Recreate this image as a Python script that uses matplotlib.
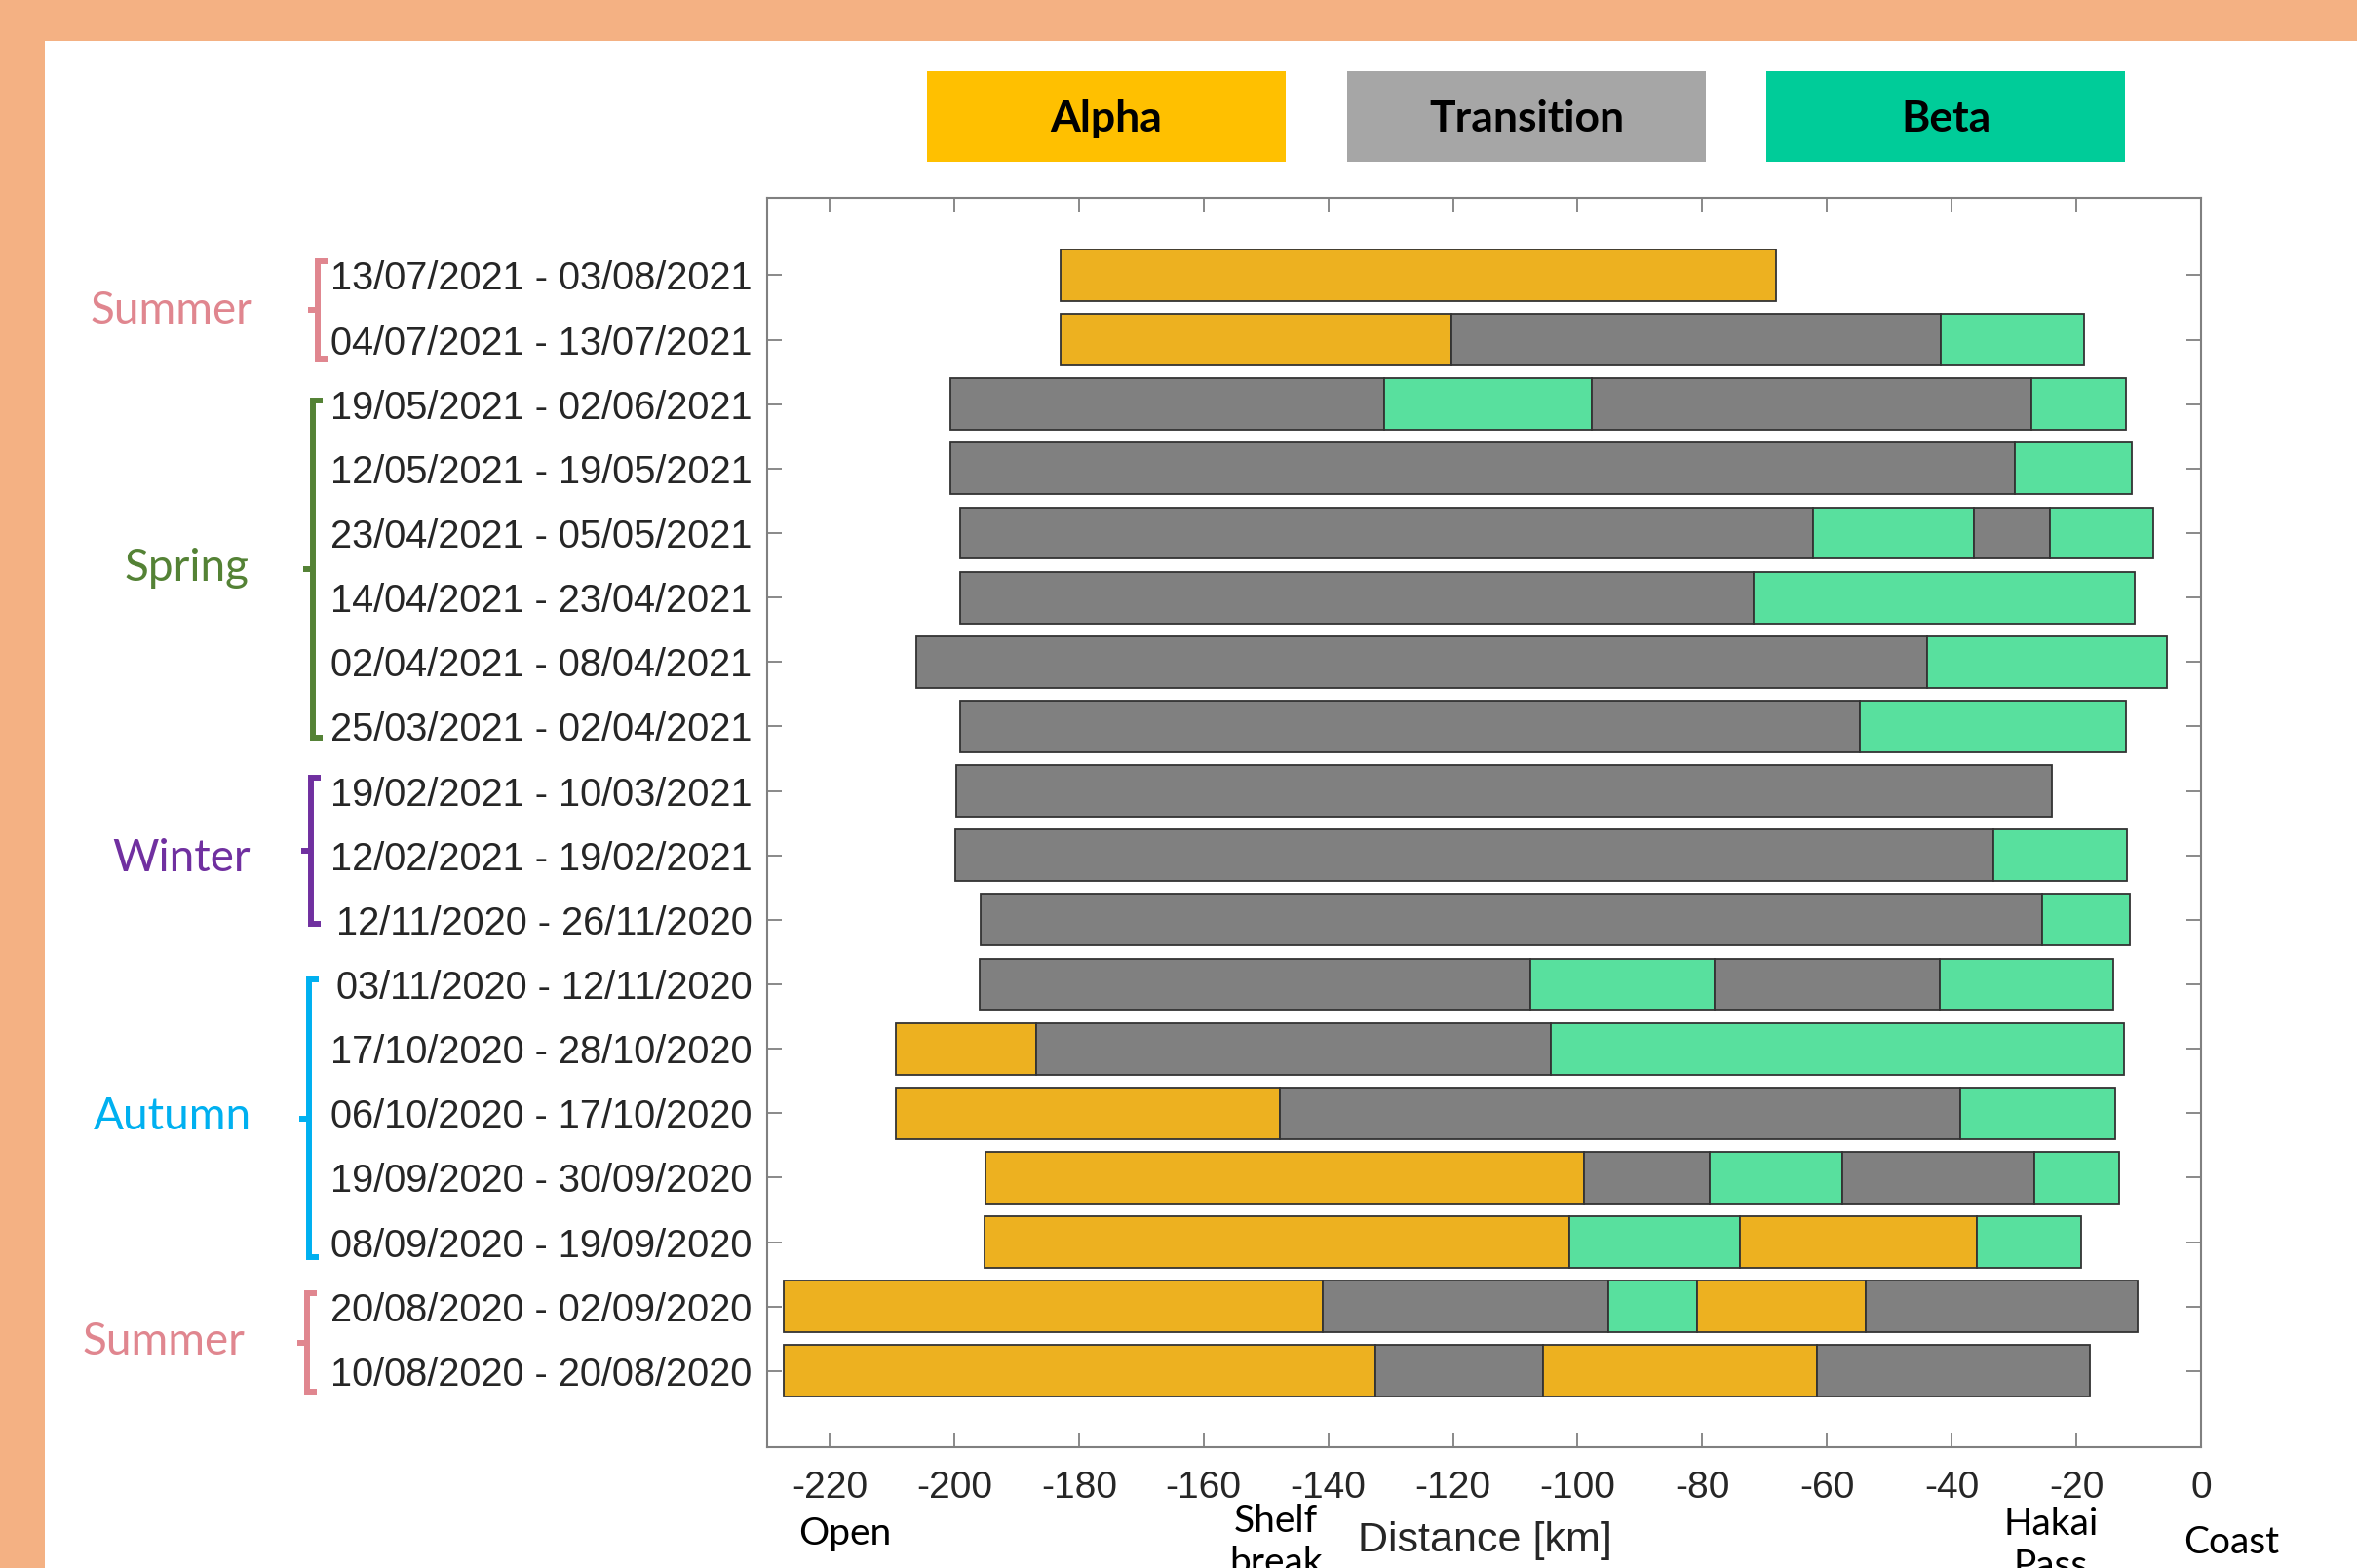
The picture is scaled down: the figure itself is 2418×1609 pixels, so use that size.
import matplotlib.pyplot as plt
from matplotlib.lines import Line2D
from matplotlib.patches import Rectangle
from matplotlib.transforms import blended_transform_factory

plt.rcParams["font.family"] = "Liberation Sans"
plt.rcParams["axes.unicode_minus"] = False

# sampling periods, top to bottom
periods = [
    "13/07/2021 - 03/08/2021", "04/07/2021 - 13/07/2021",
    "19/05/2021 - 02/06/2021", "12/05/2021 - 19/05/2021",
    "23/04/2021 - 05/05/2021", "14/04/2021 - 23/04/2021",
    "02/04/2021 - 08/04/2021", "25/03/2021 - 02/04/2021",
    "19/02/2021 - 10/03/2021", "12/02/2021 - 19/02/2021",
    "12/11/2020 - 26/11/2020", "03/11/2020 - 12/11/2020",
    "17/10/2020 - 28/10/2020", "06/10/2020 - 17/10/2020",
    "19/09/2020 - 30/09/2020", "08/09/2020 - 19/09/2020",
    "20/08/2020 - 02/09/2020", "10/08/2020 - 20/08/2020",
]

# segment boundaries along the transect [km] for each period
edges = [
    [-183.0, -68.2],
    [-183.0, -120.3, -41.7, -18.8],
    [-200.6, -131.0, -97.7, -27.2, -12.1],
    [-200.6, -29.9, -11.1],
    [-199.1, -62.3, -36.4, -24.2, -7.6],
    [-199.0, -71.8, -10.7],
    [-206.1, -43.9, -5.4],
    [-199.0, -54.8, -12.1],
    [-199.6, -23.9],
    [-199.8, -33.3, -11.9],
    [-195.8, -25.5, -11.4],
    [-195.9, -107.6, -78.0, -41.9, -14.0],
    [-209.3, -186.9, -104.3, -12.3],
    [-209.4, -147.8, -38.6, -13.8],
    [-195.0, -98.9, -78.8, -57.5, -26.8, -13.2],
    [-195.2, -101.3, -74.0, -36.0, -19.2],
    [-227.3, -140.8, -95.1, -80.8, -53.8, -10.1],
    [-227.3, -132.5, -105.6, -61.6, -17.8],
]

# water mass of each segment: A = Alpha, T = Transition, B = Beta
states = [
    ["A"],
    ["A", "T", "B"],
    ["T", "B", "T", "B"],
    ["T", "B"],
    ["T", "B", "T", "B"],
    ["T", "B"],
    ["T", "B"],
    ["T", "B"],
    ["T"],
    ["T", "B"],
    ["T", "B"],
    ["T", "B", "T", "B"],
    ["A", "T", "B"],
    ["A", "T", "B"],
    ["A", "T", "B", "T", "B"],
    ["A", "B", "A", "B"],
    ["A", "T", "B", "A", "T"],
    ["A", "T", "A", "T"],
]

seasons = ["Summer", "Spring", "Winter", "Autumn", "Summer"]
season_rows = [(1, 2), (3, 8), (9, 11), (12, 16), (17, 18)]
season_colors = ["#E0868F", "#548235", "#7030A0", "#00B0F0", "#E0868F"]

state_order = ["A", "T", "B"]
state_names = {"A": "Alpha", "T": "Transition", "B": "Beta"}
bar_colors = {"A": "#EDB120", "T": "#808080", "B": "#58E09E"}
key_colors = {"A": "#FFC000", "T": "#A6A6A6", "B": "#00CC99"}

W, H = 2418, 1609
fig = plt.figure(figsize=(W / 100, H / 100), dpi=100, facecolor="#F4B183")
fig.patches.append(Rectangle((46 / W, 0), 1, 1 - 42 / H, transform=fig.transFigure,
                             facecolor="white", edgecolor="none", zorder=-5))

ax = fig.add_axes([787 / W, 1 - 1485 / H, (2258 - 787) / W, (1485 - 203) / H])
ax.set_zorder(2)

for i, (e, s) in enumerate(zip(edges, states)):
    for j, st in enumerate(s):
        ax.barh(i + 1, e[j + 1] - e[j], left=e[j], height=0.8, color=bar_colors[st],
                edgecolor="#333333", linewidth=1.3, zorder=3)

ax.set_xlim(-230, 0)
ax.set_ylim(19.18, -0.2)
ax.set_xticks(range(-220, 1, 20))
ax.set_yticks(range(1, len(periods) + 1))
ax.set_yticklabels(periods, fontsize=28.6)
ax.tick_params(axis="x", labelsize=28, pad=17)
ax.tick_params(axis="y", pad=11)
ax.tick_params(axis="both", direction="in", length=11, width=1.3, color="#808080",
               labelcolor="#262626", top=True, right=True)
for sp in ax.spines.values():
    sp.set_color("#808080")
    sp.set_linewidth(1.5)

# season brackets next to the period labels
trans = blended_transform_factory(fig.transFigure, ax.transData)
bracket_x = [0.1350, 0.1328, 0.1319, 0.1311, 0.1303]
bracket_pad = [(0.22, 0.30), (0.06, 0.18), (0.21, 0.06), (0.07, 0.23), (0.21, 0.32)]
label_x = [0.0728, 0.0794, 0.0769, 0.0730, 0.0695]
hook = 10 / W
for name, (r0, r1), c, bx, (p0, p1), lx in zip(seasons, season_rows, season_colors,
                                                 bracket_x, bracket_pad, label_x):
    top, bot = r0 - p0, r1 + p1
    mid = (top + bot) / 2
    fig.add_artist(Line2D([bx + hook, bx, bx, bx + hook], [top, top, bot, bot],
                          transform=trans, color=c, lw=4.3, solid_joinstyle="miter",
                          solid_capstyle="butt"))
    fig.add_artist(Line2D([bx, bx - hook], [mid, mid], transform=trans, color=c, lw=4.3,
                          solid_capstyle="butt"))
    fig.text(lx, (r0 + r1) / 2 + 0.05, name, transform=trans, color=c, fontsize=33,
             family="Lato", ha="center", va="center")

# colour key above the axes
box_left = [951, 1382, 1812]
for st, x0 in zip(state_order, box_left):
    fig.patches.append(Rectangle((x0 / W, 1 - 166 / H), 368 / W, 93 / H,
                                 transform=fig.transFigure, facecolor=key_colors[st],
                                 edgecolor="none", zorder=1))
    fig.text((x0 + 184) / W, 1 - 122 / H, state_names[st], fontsize=32, family="Lato",
             weight="bold", ha="center", va="center", color="black")

# transect landmarks under the distance axis
fig.text(867 / W, 1 - 1585 / H, "Open", fontsize=28, family="Lato", ha="center",
         va="baseline")
fig.text(1309 / W, 1 - 1543 / H, "Shelf\nbreak", fontsize=28, family="Lato",
         ha="center", va="top", linespacing=1.25)
fig.text(1523 / W, 1 - 1592 / H, "Distance [km]", fontsize=31,
         ha="center", va="baseline", color="#262626")
fig.text(2104 / W, 1 - 1546 / H, "Hakai\nPass", fontsize=28, family="Lato",
         ha="center", va="top", linespacing=1.25)
fig.text(2289 / W, 1 - 1594 / H, "Coast", fontsize=28, family="Lato", ha="center",
         va="baseline")

fig.savefig("out.png", dpi=100, facecolor=fig.get_facecolor())
